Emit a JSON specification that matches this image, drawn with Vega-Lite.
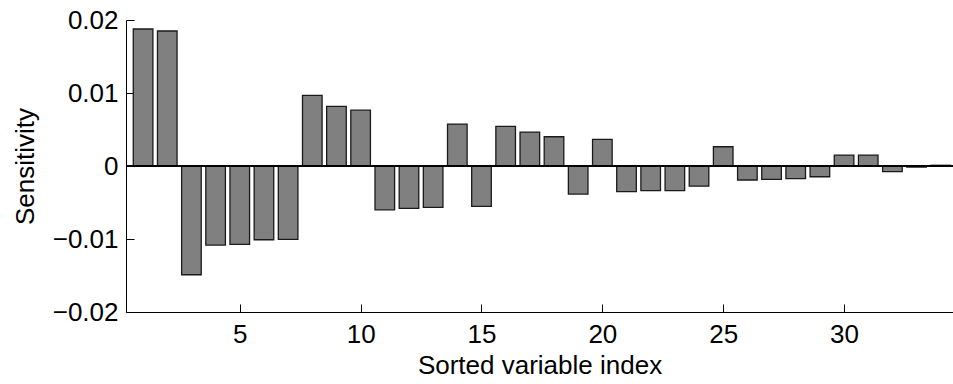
{
  "$schema": "https://vega.github.io/schema/vega-lite/v6.json",
  "autosize": "none",
  "width": 827,
  "height": 292,
  "padding": {"left": 126, "top": 20, "right": 0, "bottom": 72},
  "background": "white",
  "config": {
    "view": {"stroke": null},
    "font": "Liberation Sans",
    "axis": {
      "grid": false,
      "domainColor": "black",
      "domainWidth": 1,
      "tickColor": "black",
      "tickWidth": 1,
      "tickSize": -8,
      "labelFont": "Liberation Sans",
      "labelFontSize": 26,
      "labelColor": "black",
      "titleFont": "Liberation Sans",
      "titleFontSize": 26,
      "titleFontWeight": "normal",
      "titleColor": "black"
    }
  },
  "data": {
    "values": [
      {"index": 1, "sensitivity": 0.01877},
      {"index": 2, "sensitivity": 0.01849},
      {"index": 3, "sensitivity": -0.0149},
      {"index": 4, "sensitivity": -0.01083},
      {"index": 5, "sensitivity": -0.01074},
      {"index": 6, "sensitivity": -0.0101},
      {"index": 7, "sensitivity": -0.01005},
      {"index": 8, "sensitivity": 0.00967},
      {"index": 9, "sensitivity": 0.00817},
      {"index": 10, "sensitivity": 0.00765},
      {"index": 11, "sensitivity": -0.006},
      {"index": 12, "sensitivity": -0.0058},
      {"index": 13, "sensitivity": -0.00567},
      {"index": 14, "sensitivity": 0.00575},
      {"index": 15, "sensitivity": -0.00553},
      {"index": 16, "sensitivity": 0.00542},
      {"index": 17, "sensitivity": 0.00465},
      {"index": 18, "sensitivity": 0.00401},
      {"index": 19, "sensitivity": -0.00384},
      {"index": 20, "sensitivity": 0.00364},
      {"index": 21, "sensitivity": -0.00352},
      {"index": 22, "sensitivity": -0.00338},
      {"index": 23, "sensitivity": -0.00338},
      {"index": 24, "sensitivity": -0.00277},
      {"index": 25, "sensitivity": 0.00264},
      {"index": 26, "sensitivity": -0.00192},
      {"index": 27, "sensitivity": -0.00183},
      {"index": 28, "sensitivity": -0.00174},
      {"index": 29, "sensitivity": -0.00147},
      {"index": 30, "sensitivity": 0.0015},
      {"index": 31, "sensitivity": 0.0015},
      {"index": 32, "sensitivity": -0.00078},
      {"index": 33, "sensitivity": -0.00015},
      {"index": 34, "sensitivity": 0.0001}
    ]
  },
  "layer": [
    {
      "mark": {"type": "bar", "size": 19.6, "fill": "#808080", "stroke": "#1a1a1a", "strokeWidth": 1.3},
      "encoding": {
        "x": {
          "field": "index",
          "type": "quantitative",
          "scale": {"domain": [0.5, 34.3], "nice": false, "zero": false},
          "axis": {
            "values": [5, 10, 15, 20, 25, 30],
            "title": "Sorted variable index",
            "labelPadding": 17,
            "titlePadding": 5
          }
        },
        "y": {
          "field": "sensitivity",
          "type": "quantitative",
          "scale": {"domain": [-0.02, 0.02], "nice": false},
          "axis": {
            "values": [-0.02, -0.01, 0, 0.01, 0.02],
            "labelExpr": "datum.value == 0 ? '0' : format(datum.value, '.2f')",
            "title": "Sensitivity",
            "labelPadding": 16,
            "titlePadding": 14
          }
        }
      }
    },
    {
      "mark": {"type": "rule", "color": "black", "strokeWidth": 1.3},
      "encoding": {"y": {"datum": 0}}
    }
  ]
}
